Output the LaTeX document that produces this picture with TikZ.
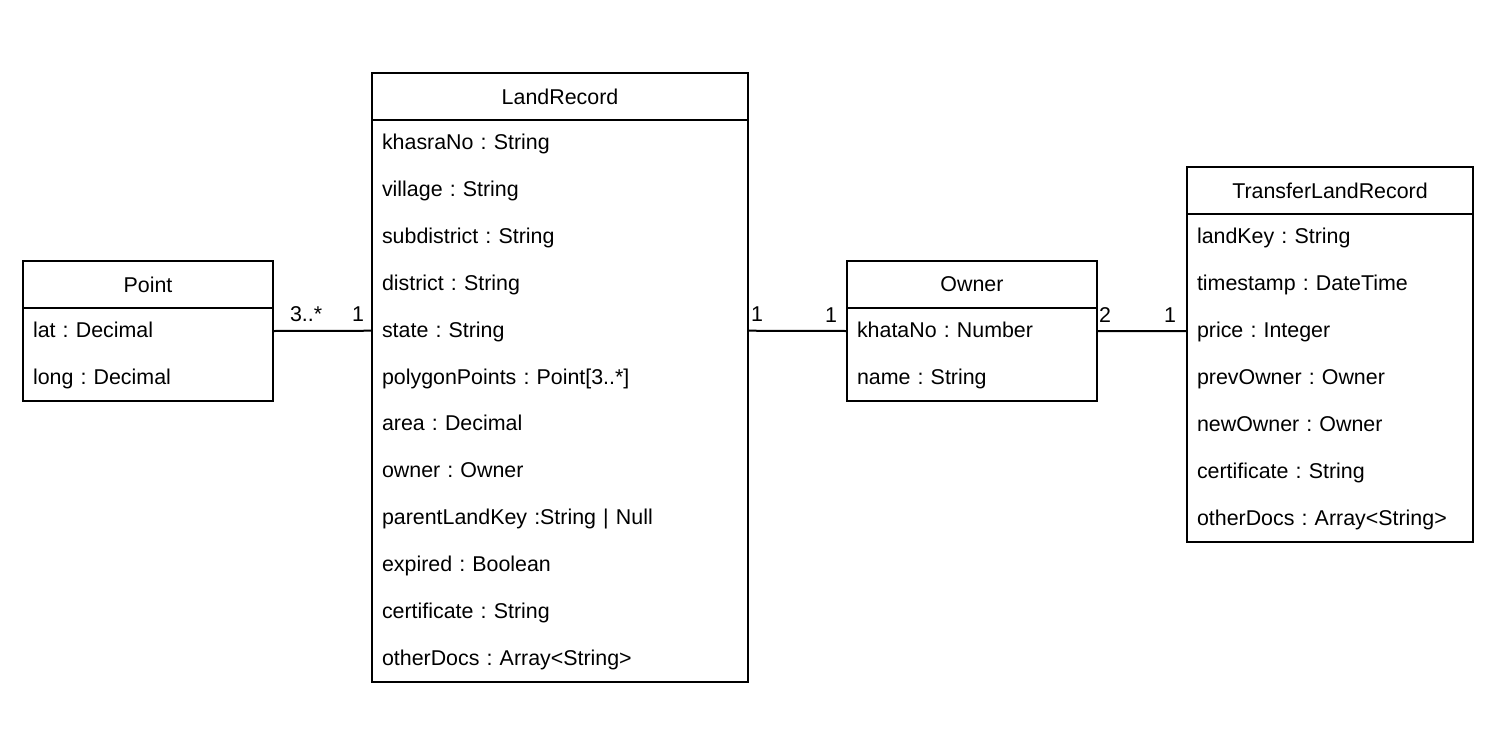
\documentclass[tikz,border=0pt]{standalone}
\usepackage{fontspec}
\setmainfont{Liberation Sans}
\usetikzlibrary{positioning}

\begin{document}
\frenchspacing
\begin{tikzpicture}[x=0.5pt,y=-0.5pt,line width=1pt,
    classhead/.style={shape=rectangle,draw,minimum height=23.5pt,inner sep=0pt},
    classbody/.style={shape=rectangle,draw,inner sep=0pt},
    attrrow/.style={shape=rectangle,anchor=west,inner xsep=5pt,inner ysep=0pt,outer sep=0pt,
        minimum height=23.4pt,text height=0.73em,text depth=0.08em,align=left},
    multlabel/.style={inner sep=0pt,yshift=4pt}]
    \useasboundingbox (0,0) rectangle (1488,734);
    \tikzset{every node/.append style={font=\fontsize{10.7}{12.8}\selectfont}}
    % Point
    \node[classhead,minimum width=125pt]                    (pointhead) at (148,284.5) {Point};
    \node[classbody,minimum width=125pt,minimum height=46.5pt] (pointbody) at (148,354.5) {};
    \node[attrrow,text width=115pt] (plat)  at (23,331) {lat : Decimal};
    \node[attrrow,text width=115pt] (plong) at (23,378) {long : Decimal};
    % LandRecord
    \node[classhead,minimum width=188pt]                    (landhead) at (560,96.5) {LandRecord};
    \node[classbody,minimum width=188pt,minimum height=281pt] (landbody) at (560,401) {};
    \foreach \attr [count=\k from 0] in {khasraNo : String, village : String, subdistrict : String,
        district : String, state : String, polygonPoints : Point[3..*], area : Decimal, owner : Owner,
        parentLandKey :String | Null, expired : Boolean, certificate : String, otherDocs : Array<String>}
        \node[attrrow,text width=178pt] (land\k) at (372,143.4+46.83*\k) {\attr};
    % Owner
    \node[classhead,minimum width=125pt]                    (ownerhead) at (972,284.5) {Owner};
    \node[classbody,minimum width=125pt,minimum height=46.5pt] (ownerbody) at (972,354.5) {};
    \node[attrrow,text width=115pt] (okhata) at (847,331) {khataNo : Number};
    \node[attrrow,text width=115pt] (oname)  at (847,378) {name : String};
    % TransferLandRecord
    \node[classhead,minimum width=143pt]                    (transhead) at (1330,190.5) {TransferLandRecord};
    \node[classbody,minimum width=143pt,minimum height=164pt] (transbody) at (1330,378) {};
    \foreach \attr [count=\k from 0] in {landKey : String, timestamp : DateTime, price : Integer,
        prevOwner : Owner, newOwner : Owner, certificate : String, otherDocs : Array<String>}
        \node[attrrow,text width=133pt] (trans\k) at (1187,237.4+46.86*\k) {\attr};
    % associations
    \draw (plat.east) -- (land4.west)
        node[multlabel,pos=0,anchor=south west,xshift=8pt] {3..*}
        node[multlabel,pos=1,anchor=south east,xshift=-3.5pt] {1};
    \draw (land4.east) -- (okhata.west)
        node[multlabel,pos=0,anchor=south west,xshift=1pt] {1}
        node[multlabel,pos=1,anchor=south east,xshift=-4.5pt] {1};
    \draw (okhata.east) -- (trans2.west)
        node[multlabel,pos=0,anchor=south west,xshift=0.5pt] {2}
        node[multlabel,pos=1,anchor=south east,xshift=-5pt] {1};
\end{tikzpicture}
\end{document}
